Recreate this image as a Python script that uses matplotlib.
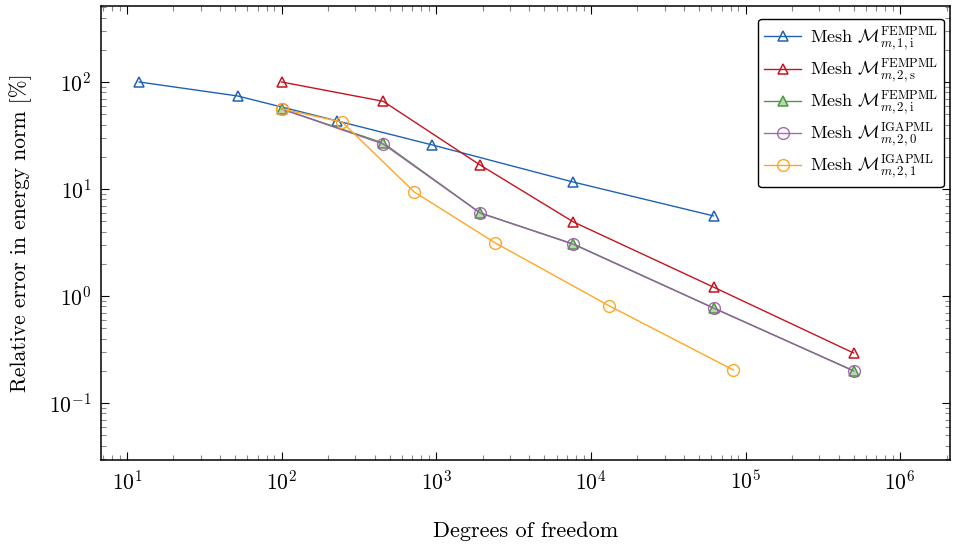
import matplotlib
matplotlib.use('Agg')
import matplotlib.pyplot as plt

plt.rcParams['font.family'] = 'serif'
plt.rcParams['font.serif'] = ['cmr10', 'DejaVu Serif']
plt.rcParams['mathtext.fontset'] = 'cm'
plt.rcParams['axes.formatter.use_mathtext'] = True

# Mesh M^FEMPML_{m,1,i}
dof_fem_1i = [12, 52, 228, 942, 7710, 62100]
err_fem_1i = [100, 74, 43.3, 25.8, 11.6, 5.6]

# Mesh M^FEMPML_{m,2,s}
dof_fem_2s = [100, 454, 1928, 7710, 62100, 500000]
err_fem_2s = [100, 66, 16.7, 4.92, 1.21, 0.293]

# Mesh M^FEMPML_{m,2,i}
dof_fem_2i = [100, 454, 1928, 7710, 62100, 500000]
err_fem_2i = [56, 26.9, 5.97, 3.06, 0.773, 0.2]

# Mesh M^IGAPML_{m,2,0}
dof_iga_20 = [100, 454, 1928, 7710, 62100, 500000]
err_iga_20 = [56, 26.3, 5.95, 3.04, 0.77, 0.199]

# Mesh M^IGAPML_{m,2,1}
dof_iga_21 = [100, 246, 721, 2410, 13180, 83600]
err_iga_21 = [56, 42.3, 9.38, 3.13, 0.807, 0.203]

labels = [r'Mesh $\mathcal{M}^{\mathrm{FEMPML}}_{m,1,\mathrm{i}}$',
          r'Mesh $\mathcal{M}^{\mathrm{FEMPML}}_{m,2,\mathrm{s}}$',
          r'Mesh $\mathcal{M}^{\mathrm{FEMPML}}_{m,2,\mathrm{i}}$',
          r'Mesh $\mathcal{M}^{\mathrm{IGAPML}}_{m,2,0}$',
          r'Mesh $\mathcal{M}^{\mathrm{IGAPML}}_{m,2,1}$']

fig = plt.figure(figsize=(9.63, 5.44), dpi=100)
ax = fig.add_axes([101/963, 1 - 460/544, 849/963, 454/544])

ax.plot(dof_fem_1i, err_fem_1i, color='#1f62b5', marker='^', mfc='none', ms=6.5, mew=1.1, lw=1.0, label=labels[0])
ax.plot(dof_fem_2s, err_fem_2s, color='#c4141e', marker='^', mfc='none', ms=6.5, mew=1.1, lw=1.0, label=labels[1])
ax.plot(dof_fem_2i, err_fem_2i, color='#4a9a3c', marker='^', mfc='#b8d8b0', ms=6.5, mew=1.1, lw=1.0, label=labels[2])
ax.plot(dof_iga_20, err_iga_20, color='#9c5aac', marker='o', mfc='none', ms=8.5, mew=1.0, lw=1.0, alpha=0.9, label=labels[3])
ax.plot(dof_iga_21, err_iga_21, color='#ffa624', marker='o', mfc='none', ms=8.5, mew=1.0, lw=1.0, label=labels[4])

ax.set_xscale('log')
ax.set_yscale('log')
ax.set_xlim(6.8, 2.1e6)
ax.set_ylim(0.0293, 513)

ax.set_xlabel('Degrees of freedom', fontsize=16, labelpad=20)
ax.set_ylabel('Relative error in energy norm [%]', fontsize=15.5, labelpad=12)

ax.tick_params(which='both', direction='in', top=True, right=True, labelsize=15.5)
ax.tick_params(which='major', length=6, width=0.8, pad=7)
ax.tick_params(which='minor', length=3.5, width=0.8, color='#888888')
for s in ax.spines.values():
    s.set_linewidth(1.1)

leg = ax.legend(loc='upper right', bbox_to_anchor=(0.993, 0.972), fontsize=13,
                frameon=True, fancybox=True, edgecolor='black', framealpha=1,
                handlelength=2.0, borderpad=0.35, labelspacing=0.25,
                handletextpad=0.5, borderaxespad=0)
leg.get_frame().set_linewidth(1.0)

plt.savefig('out.png', dpi=100)
